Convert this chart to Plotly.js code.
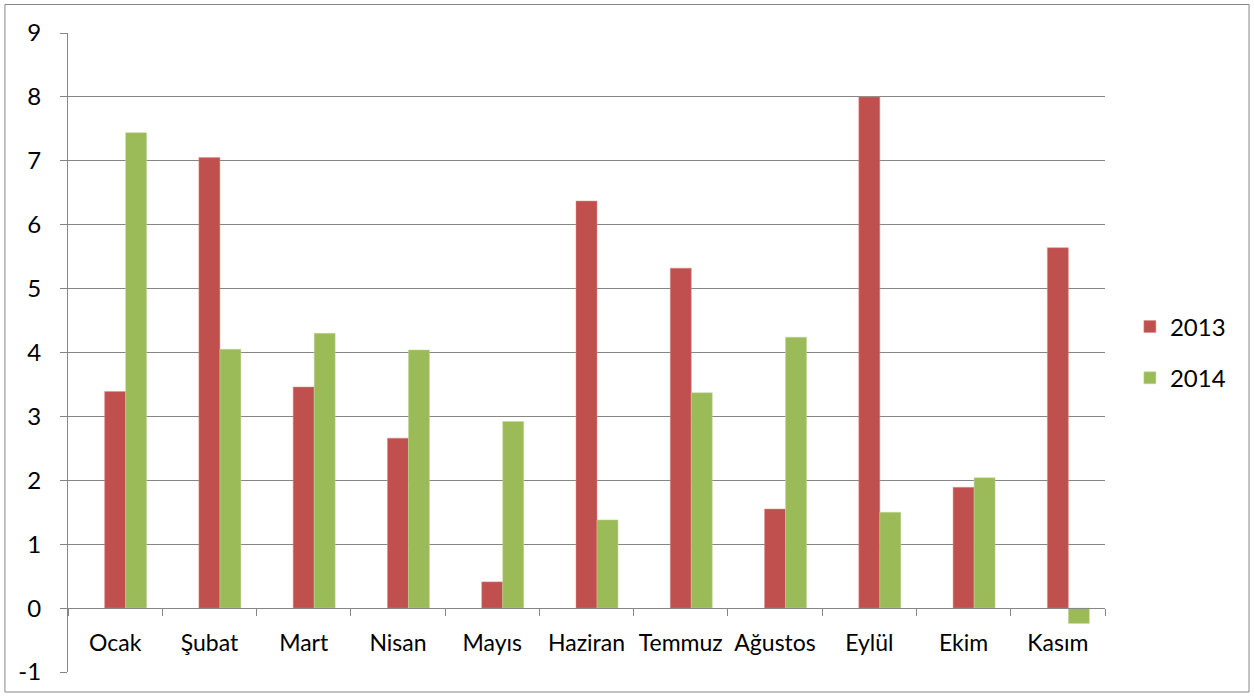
<!DOCTYPE html>
<html>
<head>
<meta charset="utf-8">
<script src="https://cdn.plot.ly/plotly-3.0.1.min.js"></script>
<style>html,body{margin:0;padding:0;background:#fff;}#chart{width:1254px;height:696px;}</style>
</head>
<body>
<div id="chart"></div>
<script>
const months = ["Ocak", "Şubat", "Mart", "Nisan", "Mayıs", "Haziran", "Temmuz", "Ağustos", "Eylül", "Ekim", "Kasım"];
const values2013 = [3.39, 7.05, 3.46, 2.66, 0.41, 6.37, 5.32, 1.55, 8.0, 1.89, 5.64];
const values2014 = [7.44, 4.05, 4.30, 4.04, 2.92, 1.38, 3.37, 4.24, 1.50, 2.04, -0.24];
const yTicks = [-1, 0, 1, 2, 3, 4, 5, 6, 7, 8, 9];

const grid = '#868686';
const barW = 0.2227;

const traces = [
  {type: 'bar', name: '2013', x: months, y: values2013, width: barW, offset: -barW / 2,
   marker: {color: '#C0504D', line: {color: '#D98C8A', width: 0.5}}, legendgroup: 'a'},
  {type: 'bar', name: '2014', x: months, y: values2014, width: barW, offset: barW / 2,
   marker: {color: '#9BBB59', line: {color: '#C3D79B', width: 0.5}}, legendgroup: 'b'}
];

const layout = {
  width: 1254, height: 696,
  margin: {l: 68, r: 149, t: 33, b: 24},
  paper_bgcolor: '#ffffff', plot_bgcolor: '#ffffff',
  font: {family: 'Lato, "Open Sans", sans-serif', size: 24, color: '#000000'},
  barmode: 'overlay',
  showlegend: true,
  legend: {x: 1.024, xanchor: 'left', y: 0.5, yanchor: 'middle', tracegroupgap: 17,
           font: {size: 24}, itemwidth: 30, bgcolor: 'rgba(0,0,0,0)'},
  xaxis: {
    type: 'category', anchor: 'free', position: 0.1002,
    range: [-0.5, 10.5],
    showline: true, linecolor: grid, linewidth: 1,
    ticks: 'outside', tickson: 'boundaries', ticklen: 7, tickcolor: grid, tickwidth: 1,
    showgrid: false, zeroline: false,
    tickangle: 0,
    ticklabelstandoff: 14,
    tickfont: {size: 23}
  },
  yaxis: {
    range: [-1, 9], tickvals: yTicks, ticktext: yTicks.map(String),
    showline: true, linecolor: grid, linewidth: 1,
    ticks: 'outside', ticklen: 7, tickcolor: grid, tickwidth: 1,
    showgrid: true, gridcolor: grid, gridwidth: 1,
    zeroline: false,
    ticklabelstandoff: 14,
    tickfont: {size: 24}
  },
  shapes: [
    {type: 'rect', xref: 'paper', yref: 'paper', x0: -0.0608, x1: 1.1389, y0: -0.0313, y1: 1.0446,
     line: {color: grid, width: 1}, fillcolor: 'rgba(0,0,0,0)', layer: 'below'}
  ]
};

Plotly.newPlot('chart', traces, layout, {displayModeBar: false, staticPlot: true});
</script>
</body>
</html>
